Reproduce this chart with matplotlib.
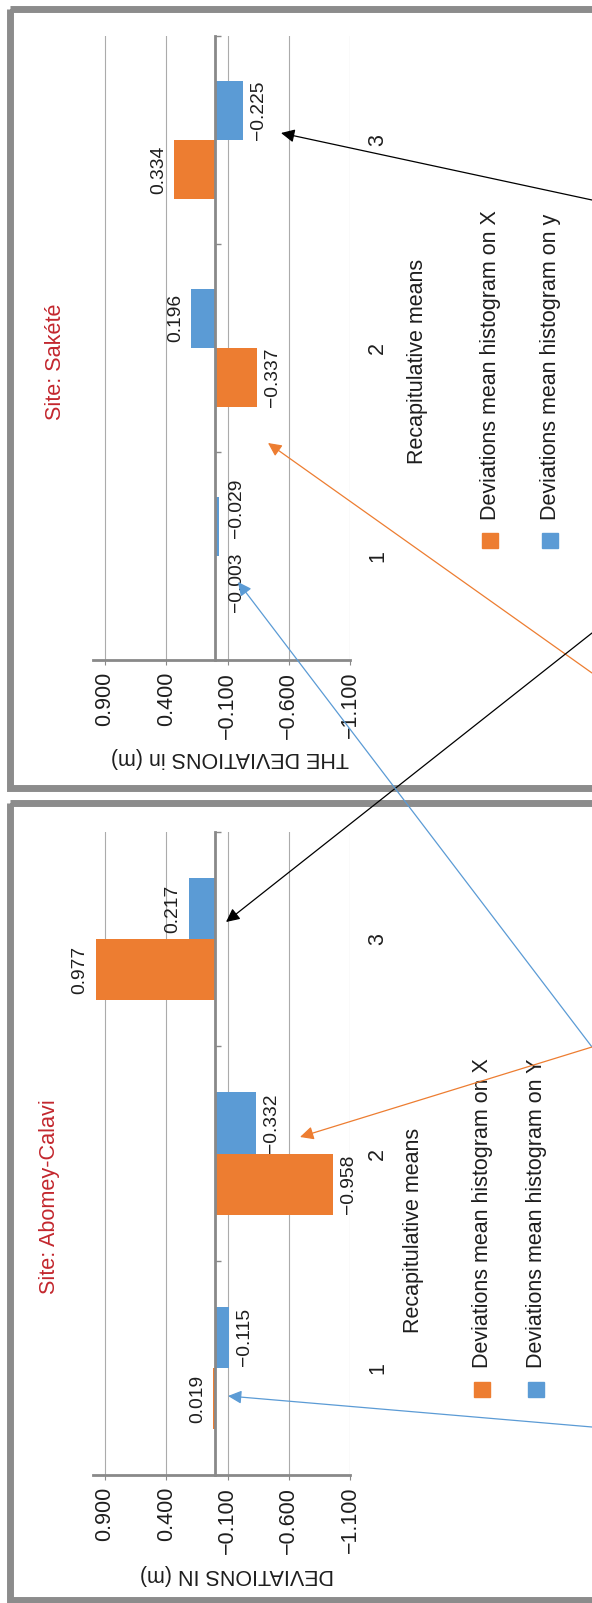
import matplotlib
matplotlib.use('Agg')
import numpy as np
import matplotlib.pyplot as plt
from matplotlib.patches import Rectangle
from matplotlib import transforms

plt.rcParams['font.family'] = ['Liberation Sans', 'DejaVu Sans']

W, H = 592, 1603

# data
categories = np.array([1, 2, 3])
sakete_x = [-0.003, -0.337, 0.334]
sakete_y = [-0.029, 0.196, -0.225]
abomey_x = [0.019, -0.958, 0.977]
abomey_y = [-0.115, -0.332, 0.217]
value_ticks = [0.9, 0.4, -0.1, -0.6, -1.1]

ORANGE = '#ED7D31'
BLUE = '#5B9BD5'
AXIS = '#898989'
GRID = '#ABABAB'
TXT = '#1e1e1e'
RED = '#C3272E'
FRAME = '#8C8C8C'

fig = plt.figure(figsize=(W / 100, H / 100), dpi=100)


def px_axes(left, top, right, bottom):
    return fig.add_axes([left / W, 1 - bottom / H, (right - left) / W, (bottom - top) / H])


def fmt(v):
    return f'{v:.3f}'.replace('-', '\u2212')


def draw_panel(ax, xs, ys, nudge=None):
    # nudge: {(series, category index): (dx, dy) in pixels} for labels Excel moved apart
    nudge = nudge or {}
    h = 1 / 3.5  # gap width 150%
    ax.barh(categories - h / 2, xs, height=h, color=ORANGE, zorder=2)
    ax.barh(categories + h / 2, ys, height=h, color=BLUE, zorder=2)
    ax.set_xlim(1.0, -1.1)
    ax.set_ylim(0.5, 3.5)

    ax.set_xticks(value_ticks)
    ax.set_xticklabels([fmt(v) for v in value_ticks], rotation=90, fontsize=15.5, color=TXT)
    ax.tick_params(axis='x', direction='out', length=3.6, width=0.8, color=AXIS, pad=5)
    ax.xaxis.grid(True, color=GRID, lw=0.8)
    ax.set_axisbelow(True)

    for s in ['top', 'left']:
        ax.spines[s].set_visible(False)
    ax.spines['bottom'].set_color(AXIS)
    ax.spines['bottom'].set_linewidth(2.0)
    ax.spines['right'].set_position(('data', 0))
    ax.spines['right'].set_color(AXIS)
    ax.spines['right'].set_linewidth(2.0)
    ax.yaxis.tick_right()
    ax.set_yticks([0.5, 1.5, 2.5, 3.5])
    ax.set_yticklabels([])
    ax.tick_params(axis='y', direction='out', length=4.3, width=1.0, color=AXIS)

    # category labels sit at the low end of the value axis
    tr = transforms.blended_transform_factory(ax.transAxes, ax.transData)
    for c in categories:
        ax.text(1.108, c, str(c), transform=tr, rotation=90, ha='center', va='center',
                fontsize=15.5, color=TXT)

    # data labels, outside end
    for si, (pos, vals) in enumerate([(categories - h / 2, xs), (categories + h / 2, ys)]):
        for ci, (c, v) in enumerate(zip(pos, vals)):
            if v >= 0:
                off, ha = -7, 'right'
            else:
                off, ha = 7, 'left'
            dx, dy = nudge.get((si, ci), (0, 0))
            ax.annotate(fmt(v), (v, c), xytext=(off + dx, dy), textcoords='offset pixels',
                        rotation=90, ha=ha, va='center', fontsize=13.9, color=TXT)


ax_top = px_axes(92.75, 36, 350, 660)
draw_panel(ax_top, sakete_x, sakete_y, nudge={(0, 0): (5, 3), (1, 0): (2, 18)})
ax_bot = px_axes(92.75, 832, 350, 1475)
draw_panel(ax_bot, abomey_x, abomey_y)

# overlay in picture pixels for frames, titles, legends and the arrows
ov = fig.add_axes([0, 0, 1, 1], zorder=10)
ov.set_xlim(0, W)
ov.set_ylim(H, 0)
ov.axis('off')
ov.patch.set_visible(False)

ov.add_patch(Rectangle((9.5, 8.5), 700, 779, fill=False, ec=FRAME, lw=5))
ov.add_patch(Rectangle((9.5, 802.5), 700, 797.5, fill=False, ec=FRAME, lw=5))

panels = [
    dict(title='Site: Sakété', title_xy=(55.5, 362), vtitle='THE DEVIATIONS in (m)',
         vtitle_xy=(229.5, 757.5), cat_xy=(417.5, 361),
         leg=[('Deviations mean histogram on X', ORANGE, 490.5),
              ('Deviations mean histogram on y', BLUE, 550.5)],
         leg_box_y=533, leg_text_y=520),
    dict(title='Site: Abomey-Calavi', title_xy=(49.5, 1197), vtitle='DEVIATIONS IN (m)',
         vtitle_xy=(236.5, 1574.5), cat_xy=(413.5, 1230),
         leg=[('Deviations mean histogram on X', ORANGE, 482.5),
              ('Deviations mean histogram on Y', BLUE, 536.5)],
         leg_box_y=1382, leg_text_y=1368),
]

for p in panels:
    ov.text(*p['title_xy'], p['title'], rotation=90, ha='center', va='center',
            fontsize=15.6, color=RED)
    ov.text(*p['vtitle_xy'], p['vtitle'], rotation=180, ha='center', va='center',
            fontsize=15.5, color=TXT)
    ov.text(*p['cat_xy'], 'Recapitulative means', rotation=90, ha='center', va='center',
            fontsize=15.5, color=TXT)
    for label, col, xc in p['leg']:
        ov.add_patch(Rectangle((xc - 8.5, p['leg_box_y']), 16, 15, color=col))
        ov.text(xc, p['leg_text_y'], label, rotation=90, ha='center', va='bottom',
                fontsize=15.5, color=TXT)

# hand-drawn pointer arrows (start, tip, colour)
arrows = [
    ((592, 200), (281, 133), 'black'),
    ((592, 673), (268, 443), ORANGE),
    ((592, 633), (226, 922), 'black'),
    ((592, 1047), (238, 582), BLUE),
    ((592, 1047), (300, 1137), ORANGE),
    ((592, 1427), (228, 1396), BLUE),
]
for start, tip, col in arrows:
    ov.annotate('', xy=tip, xytext=start, xycoords='data', textcoords='data',
                arrowprops=dict(arrowstyle='-|>,head_length=0.45,head_width=0.22',
                                color=col, lw=0.9, mutation_scale=18,
                                shrinkA=0, shrinkB=0))

fig.savefig('out.png', dpi=100)
